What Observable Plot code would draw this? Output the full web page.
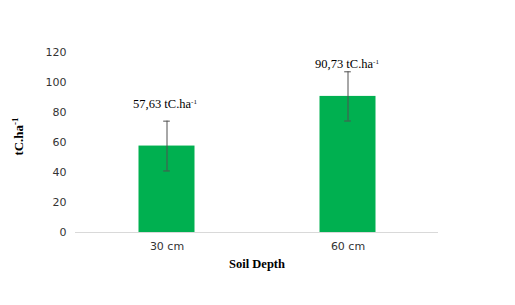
<!DOCTYPE html>
<html><head><meta charset="utf-8">
<script src="https://cdn.jsdelivr.net/npm/d3@7"></script>
<script src="https://cdn.jsdelivr.net/npm/@observablehq/plot@0.6"></script>
<style>body{margin:0;background:#fff}</style>
</head><body><div id="chart"></div>
<script>
const depths = ["30 cm", "60 cm"];
const carbon = [57.63, 90.73];
const errors = [16.6, 16.4];
const valueLabels = ["57,63", "90,73"];
const yTicks = [0, 20, 40, 60, 80, 100, 120];
const unit = "tC.ha";
const unitExp = "-1";
const xTitle = "Soil Depth";

const rows = depths.map((d, i) => ({
  depth: d, value: carbon[i], err: errors[i],
  lo: carbon[i] - errors[i], hi: carbon[i] + errors[i],
  label: valueLabels[i] + " " + unit
}));

const serif = "'Liberation Serif', 'Times New Roman', serif";
const errColor = "#505050";

const chart = Plot.plot({
  width: 515, height: 305,
  marginLeft: 75, marginRight: 77, marginTop: 52, marginBottom: 73,
  style: {fontFamily: "'DejaVu Sans', Verdana, sans-serif", fontSize: "11px", color: "#404040", background: "#fff"},
  x: {domain: depths, padding: 0, label: null},
  y: {domain: [0, 120], label: null},
  marks: [
    Plot.axisY({ticks: yTicks, tickSize: 0, tickPadding: 9, label: null, fill: "#333"}),
    Plot.axisX({tickSize: 0, tickPadding: 10, label: null, fill: "#333"}),
    Plot.barY(rows, {x: "depth", y: "value", fill: "#00B050", insetLeft: 62.5, insetRight: 62.5}),
    Plot.ruleY([0], {stroke: "#d9d9d9", strokeWidth: 1}),
    Plot.ruleX(rows, {x: "depth", y1: "lo", y2: "hi", stroke: errColor, strokeWidth: 1}),
    Plot.tickY(rows, {x: "depth", y: "lo", stroke: errColor, strokeWidth: 1, insetLeft: 87.2, insetRight: 87.2}),
    Plot.tickY(rows, {x: "depth", y: "hi", stroke: errColor, strokeWidth: 1, insetLeft: 87.2, insetRight: 87.2}),
    Plot.text(rows.slice(0, 1), {x: "depth", y: "hi", text: "label", dy: -17, dx: -2, fontFamily: serif, fontSize: 12.5, fill: "#000", className: "vlabel"}),
    Plot.text(rows.slice(1, 2), {x: "depth", y: "hi", text: "label", dy: -8, dx: -1, fontFamily: serif, fontSize: 12.5, fill: "#000", className: "vlabel"}),
    Plot.text([unit], {text: d => d, frameAnchor: "left", textAnchor: "middle", dx: -57, dy: -6, rotate: -90, fontFamily: serif, fontWeight: "bold", fontSize: 13, fill: "#000", className: "ylab"}),
    Plot.text([xTitle], {text: d => d, frameAnchor: "bottom", lineAnchor: "middle", dy: 31, fontFamily: serif, fontWeight: "bold", fontSize: 12.5, fill: "#000"})
  ]
});

const svg = d3.select(chart.tagName === "svg" ? chart : chart.querySelector("svg"));
svg.selectAll(".vlabel text").each(function() {
  d3.select(this).append("tspan").attr("baseline-shift", "super").attr("font-size", 7).text(unitExp);
});
svg.selectAll(".ylab text").each(function() {
  d3.select(this).append("tspan").attr("baseline-shift", "super").attr("font-size", 9).text(unitExp);
});
document.getElementById("chart").appendChild(chart);
</script>
</body></html>
